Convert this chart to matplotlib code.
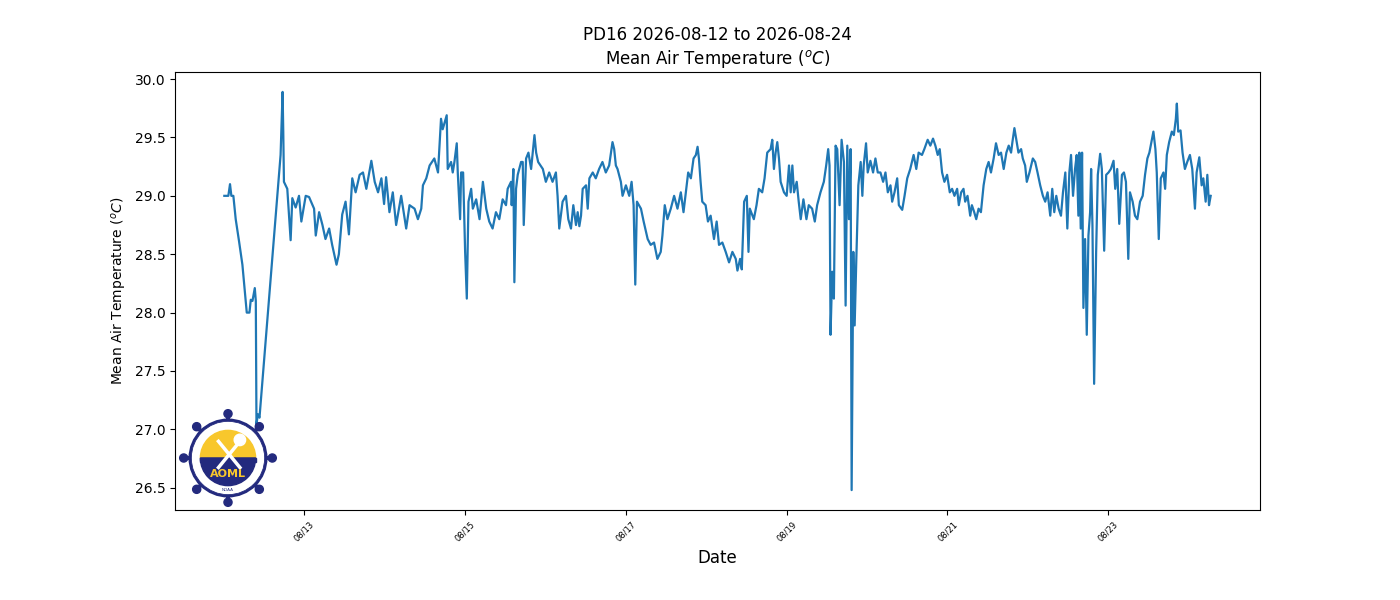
import numpy as np
import pandas as pd
import matplotlib
matplotlib.use("Agg")
import matplotlib.pyplot as plt
import matplotlib.dates as mdates
from matplotlib.patches import Circle, Wedge, Rectangle

# hours since 2026-08-12 00:00 and mean air temperature (deg C)
hours = [
    0.1, 1.3, 1.8, 2.2, 2.8, 3.5, 4.5, 5.5, 6.5, 6.8, 7.6, 8.0, 8.5, 9.2, 9.5, 9.7, 10.1, 10.6,
    16.9, 17.5, 17.7, 17.9, 18.9, 19.9, 20.4, 21.4, 22.4, 23.1, 24.4, 25.4, 26.9, 27.4, 28.4,
    29.4, 30.3, 31.4, 32.3, 33.6, 34.3, 35.3, 36.3, 37.3, 38.3, 39.3,
    40.5, 41.5, 42.5, 44.0, 45.0, 46.0, 47.0, 47.8, 48.4, 49.4, 50.4, 51.4, 52.9, 54.4, 55.4,
    56.9, 57.9, 58.9, 59.4, 60.4, 61.4, 62.8, 63.9, 64.3, 64.8, 65.3, 65.8, 66.5, 66.8, 67.8,
    68.3, 68.8, 69.5, 69.8, 70.5, 70.8, 71.4, 72.0, 72.5, 73.0, 73.8, 74.3, 75.3, 76.3, 77.3,
    78.3, 79.2, 80.2, 81.2, 82.2, 83.2, 84.2, 84.7, 85.7, 85.9, 86.4, 86.7, 87.2, 87.7, 88.7,
    89.2, 89.5, 90.2, 90.9, 91.7, 92.7, 93.2, 93.8, 95.2, 96.1, 97.1, 98.1, 99.1, 99.6, 100.1,
    101.1, 102.1, 102.8, 103.6, 104.3, 105.1, 105.6, 106.1, 106.6, 107.1, 108.1, 108.6, 109.1,
    110.1, 111.0, 112.0, 113.0, 114.0, 115.0, 116.0, 116.5, 117.0, 117.5, 118.5, 119.0, 120.0,
    121.0, 121.7, 122.3, 122.8, 123.3, 124.5, 125.3, 126.5, 127.4, 128.4, 129.4, 130.4, 130.9,
    131.6, 132.4, 133.4, 134.4, 135.4, 136.4,
    137.2, 137.9, 138.6, 139.4, 140.2, 140.9, 141.4, 141.8, 142.3, 142.8, 143.8, 144.5, 145.3,
    146.3, 147.1, 147.8, 148.8, 149.8, 150.8, 151.8, 152.8, 153.3, 154.1, 154.6, 155.3, 156.1,
    156.6, 157.0, 157.8, 158.2, 159.0, 159.7, 160.7, 161.4, 162.2, 163.2, 163.7, 164.2, 164.7,
    165.2, 165.7, 166.2, 167.2, 168.0, 168.7, 169.2, 169.7, 170.2, 171.0, 171.6, 172.2, 173.0,
    173.9, 174.6, 175.6, 176.4, 177.1, 178.1, 179.1, 179.8, 180.4, 180.8, 181.1, 181.6, 182.1,
    182.6, 183.1, 183.8, 184.4, 185.1, 185.6, 186.1, 186.6, 187.1, 187.4, 187.9, 188.3, 188.8,
    189.4, 190.1,
    190.6, 191.0, 191.7, 192.2, 193.0, 193.8, 194.5, 195.2, 196.0, 196.8, 197.5, 198.2, 199.0,
    199.5, 200.2, 201.0, 201.5, 202.5, 203.2, 204.0, 204.9, 205.9, 206.7, 207.4, 208.4, 209.1,
    210.1, 210.9, 211.7, 212.4, 213.1, 213.7, 214.4, 215.1, 215.9, 216.7, 217.4, 218.1, 218.9,
    219.4, 220.1, 220.8, 221.3, 222.0, 222.8, 223.3, 224.0, 224.6, 225.3, 226.0, 226.8, 227.6,
    228.3, 229.0, 229.8, 230.5, 231.3, 232.0, 232.8, 233.6, 234.3, 235.0, 235.4, 236.0, 236.7,
    237.2, 238.0, 238.5, 239.2, 239.7, 240.5,
    241.5, 242.2, 242.9, 243.7, 244.5, 245.2, 245.9, 246.7, 247.3, 247.9, 248.5, 249.2, 249.9,
    250.5, 251.2, 251.8, 252.4, 252.9, 253.5, 254.1, 254.6, 255.1, 255.4, 255.8, 256.2, 256.6,
    257.1, 257.6, 258.1, 258.6, 258.9, 259.3, 259.8, 260.4, 260.9, 261.6, 262.1, 262.8, 263.4,
    264.1, 264.8, 265.6, 266.1, 266.7, 267.3, 268.1, 268.7, 269.3, 270.0, 270.5, 271.3, 272.0,
    272.7, 273.5, 274.3, 275.0, 275.7, 276.3, 276.9, 277.5, 278.1, 278.5, 279.1, 279.7, 280.5,
    281.0, 281.5, 282.2, 283.0, 283.6, 284.2, 284.5, 284.9, 285.6, 286.2, 286.9, 287.6, 288.4,
    289.1, 289.9, 290.4, 291.2, 291.9, 292.4, 293.1, 293.6, 294.1, 294.6,
]
temps = [
    29.00, 29.00, 29.10, 29.00, 29.00, 28.80, 28.61, 28.41, 28.09, 28.00, 28.00, 28.11, 28.10,
    28.21, 28.10, 27.04, 27.13, 27.10,
    29.35, 29.89, 29.55, 29.12, 29.06, 28.62, 28.98, 28.90, 29.00, 28.78, 29.00, 28.99, 28.89,
    28.66, 28.86, 28.75, 28.63, 28.72, 28.58, 28.41, 28.50, 28.84, 28.95, 28.67, 29.15, 29.03,
    29.18, 29.20, 29.06, 29.30, 29.12, 29.03, 29.15, 28.93, 29.16, 28.86, 29.03, 28.75, 29.00,
    28.72, 28.92, 28.89, 28.80, 28.89, 29.09, 29.15, 29.26, 29.32, 29.20, 29.40, 29.66, 29.57,
    29.62, 29.69, 29.23, 29.29, 29.20, 29.29, 29.45, 29.20, 28.80, 29.20, 29.20, 28.52, 28.12,
    28.95, 29.06, 28.89, 28.97, 28.80, 29.12, 28.89, 28.78, 28.72, 28.86, 28.80, 28.97, 28.92,
    29.06, 29.12, 28.92, 29.23, 28.26, 29.06, 29.18, 29.29,
    29.29, 28.75, 29.32, 29.37, 29.23, 29.52, 29.37, 29.29, 29.23, 29.12, 29.20, 29.12, 29.20,
    29.00, 28.72, 28.95, 29.00, 28.80, 28.72, 28.92, 28.75, 28.86, 28.74, 28.83, 29.06, 29.09,
    28.89, 29.15, 29.20, 29.15, 29.23, 29.29, 29.20, 29.26, 29.46, 29.40, 29.26, 29.23, 29.12,
    29.00, 29.09, 29.00, 29.12, 28.92, 28.24, 28.95, 28.89, 28.78, 28.63, 28.58, 28.60, 28.46,
    28.52, 28.66, 28.92, 28.80, 28.89, 29.00, 28.89, 29.03,
    28.86, 29.03, 29.20, 29.15, 29.32, 29.35, 29.42, 29.32, 29.12, 28.95, 28.92, 28.78, 28.83,
    28.63, 28.78, 28.58, 28.60, 28.52, 28.43, 28.52, 28.46, 28.36, 28.46, 28.37, 28.95, 29.00,
    28.52, 28.89, 28.83, 28.80, 28.92, 29.06, 29.03, 29.15, 29.37, 29.40, 29.48, 29.23, 29.37,
    29.46, 29.32, 29.12, 29.03, 29.00, 29.26, 29.03, 29.26, 29.03, 29.12, 28.95, 28.80, 28.97,
    28.80, 28.92, 28.89, 28.78, 28.92, 29.03, 29.12, 29.26, 29.40, 29.26, 27.81, 28.35, 28.12,
    29.43, 29.40, 28.92, 29.48, 29.29, 28.06, 29.43, 28.80, 29.40, 26.48, 28.52, 27.89, 28.46,
    29.09, 29.29,
    29.00, 29.26, 29.45, 29.20, 29.30, 29.20, 29.32, 29.20, 29.20, 29.12, 29.20, 29.03, 29.09,
    28.95, 29.03, 29.15, 28.92, 28.88, 29.00, 29.15, 29.23, 29.35, 29.23, 29.37, 29.35, 29.40,
    29.48, 29.43, 29.49, 29.43, 29.35, 29.40, 29.20, 29.12, 29.18, 29.03, 29.06, 29.00, 29.06,
    28.92, 29.03, 29.06, 28.95, 29.00, 28.83, 28.92, 28.86, 28.80, 28.89, 28.86, 29.09, 29.23,
    29.29, 29.20, 29.32, 29.45, 29.35, 29.37, 29.23, 29.37, 29.43, 29.37, 29.46, 29.58, 29.46,
    29.37, 29.40, 29.32, 29.26, 29.12, 29.20,
    29.32, 29.29, 29.20, 29.09, 29.00, 28.95, 29.03, 28.83, 29.06, 28.86, 29.00, 28.89, 28.83,
    29.03, 29.20, 28.72, 29.20, 29.35, 29.00, 29.23, 29.35, 28.83, 29.37, 28.72, 29.37, 28.04,
    28.63, 27.81, 28.66, 28.86, 29.23, 28.75, 27.39, 28.52, 29.18, 29.36, 29.23, 28.53, 29.18,
    29.20, 29.23, 29.30, 29.06, 29.23, 28.76, 29.18, 29.20, 29.12, 28.46, 29.03, 28.95, 28.83,
    28.80, 28.95, 29.00, 29.18, 29.32, 29.37, 29.46, 29.55, 29.40, 29.20, 28.63, 29.15, 29.20,
    29.06, 29.35, 29.46, 29.55, 29.52, 29.66, 29.79, 29.55, 29.56, 29.37, 29.23, 29.29, 29.35,
    29.23, 28.89, 29.20, 29.33, 29.09, 29.15, 28.95, 29.18, 28.92, 29.00,
]

station = "PD16"
start_date = "2026-08-12"
end_date = "2026-08-24"

times = pd.Timestamp(start_date) + pd.to_timedelta(hours, unit="h")

fig, ax = plt.subplots(figsize=(14, 6), dpi=100)
fig.subplots_adjust(left=0.125, right=0.9, top=0.88, bottom=0.15)

ax.plot(times, temps, color="#1f77b4", linewidth=1.6)

ax.set_title(f"{station} {start_date} to {end_date}\nMean Air Temperature ($^oC$)", fontsize=12)
ax.set_xlabel("Date", fontsize=12)
ax.set_ylabel("Mean Air Temperature ($^oC$)")

ax.xaxis.set_major_locator(mdates.DayLocator(bymonthday=[13, 15, 17, 19, 21, 23]))
ax.xaxis.set_major_formatter(mdates.DateFormatter("%m/%d"))
plt.setp(ax.get_xticklabels(), rotation=45, fontsize=6)

# AOML logo, drawn roughly
navy = "#232a7e"
gold = "#f8c72c"
lax = fig.add_axes([178 / 1400, 92 / 600, 100 / 1400, 100 / 600])
lax.set_xlim(-1.05, 1.05)
lax.set_ylim(-1.05, 1.05)
lax.set_aspect("equal")
lax.axis("off")

for ang in np.arange(0, 360, 45):
    a = np.deg2rad(ang)
    lax.plot([0, 0.9 * np.cos(a)], [0, 0.9 * np.sin(a)], color=navy, lw=3, zorder=1)
    lax.add_patch(Circle((0.93 * np.cos(a), 0.93 * np.sin(a)), 0.085, color=navy, zorder=1))
lax.add_patch(Circle((0, 0), 0.8, facecolor="white", edgecolor=navy, lw=2, zorder=2))
lax.add_patch(Circle((0, 0), 0.77, facecolor="none", edgecolor=navy, lw=0.6, zorder=3))
lax.add_patch(Wedge((0, 0), 0.58, 0, 180, color=gold, zorder=3))
lax.add_patch(Wedge((0, 0), 0.58, 180, 360, color=navy, zorder=3))
lax.add_patch(Rectangle((-0.58, -0.08), 1.16, 0.08, color=navy, zorder=3))
lax.plot([-0.2, 0.25], [0.35, -0.2], color="white", lw=2.5, zorder=4)
lax.plot([0.25, -0.2], [0.35, -0.2], color="white", lw=2.5, zorder=4)
lax.add_patch(Circle((0.25, 0.38), 0.12, color="white", zorder=4))
lax.text(0, -0.33, "AOML", color=gold, fontsize=8, fontweight="bold",
         ha="center", va="center", zorder=5)
lax.text(0, -0.68, "NOAA", color=navy, fontsize=3, ha="center", va="center", zorder=5)

fig.savefig("out.png", dpi=100)
